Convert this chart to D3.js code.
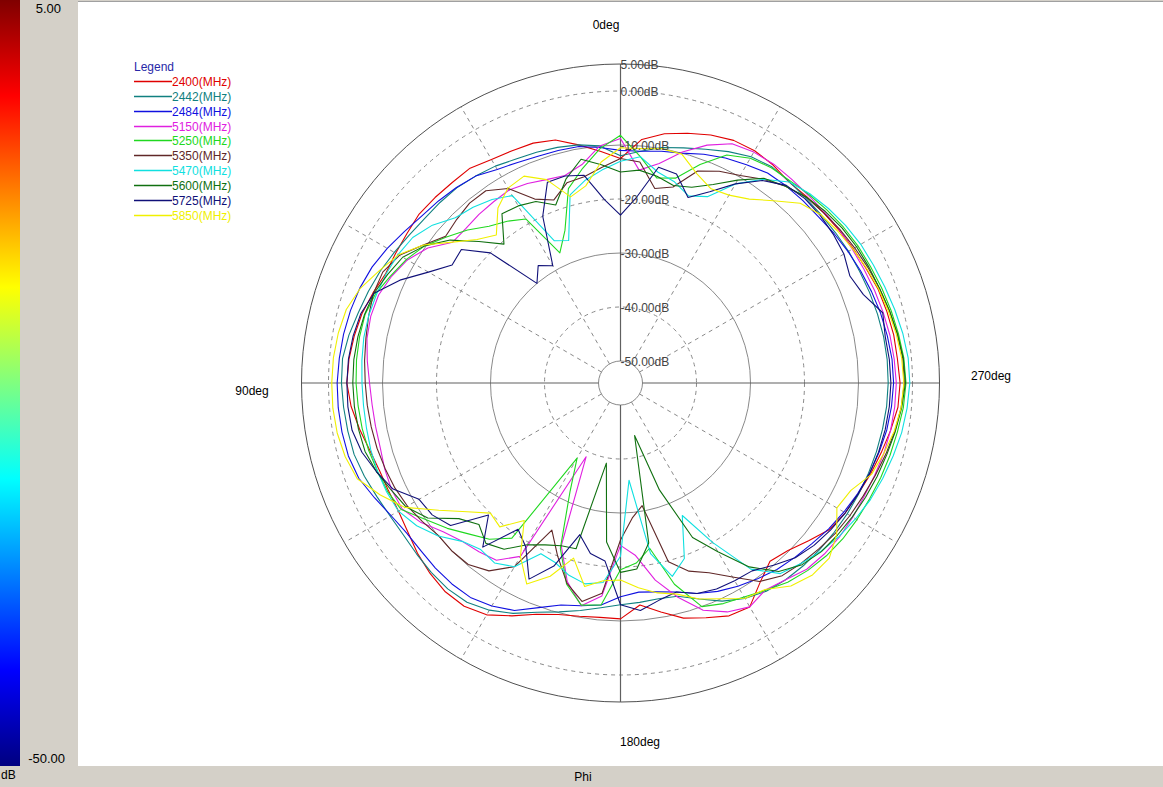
<!DOCTYPE html>
<html><head><meta charset="utf-8">
<script src="https://cdn.jsdelivr.net/npm/d3@7"></script>
<style>
body{margin:0;background:#d4d0c8;overflow:hidden;}
svg{display:block;}
text{font-family:"Liberation Sans",Arial,Helvetica,sans-serif;}
</style>
</head><body>
<svg id="chart" width="1163" height="787"></svg>
<script>
// ---------- data ----------
const phiDeg = [0,5,10,15,20,25,30,35,40,45,50,55,60,65,70,75,80,85,90,95,100,105,110,115,120,125,130,135,140,145,150,155,160,165,170,175,180,185,190,195,200,205,210,215,220,225,230,235,240,245,250,255,260,265,270,275,280,285,290,295,300,305,310,315,320,325,330,335,340,345,350,355];

const freqLabels = ["2400(MHz)","2442(MHz)","2484(MHz)","5150(MHz)","5250(MHz)","5350(MHz)","5470(MHz)","5600(MHz)","5725(MHz)","5850(MHz)"];

const s2400 = [-12.5,-11,-9.3,-7.5,-6.8,-6.6,-6.3,-5.5,-5.6,-5.5,-5.4,-5.8,-6,-6.1,-5.3,-4.5,-4,-3.6,-3.4,-4,-5,-6,-6.6,-6.7,-6.6,-6,-5,-4.2,-3.6,-3.6,-4.5,-6.5,-8.5,-9.7,-10.2,-10.5,-10.4,-12.8,-11,-9,-7.8,-6.5,-6.2,-9,-11,-10.2,-8.6,-6.8,-6,-5.5,-4.8,-4.1,-3.3,-2.5,-2.3,-2.6,-2.7,-3,-3.3,-3.9,-4.3,-4.7,-5,-5.3,-5.5,-4.8,-4.4,-4.5,-5.2,-6.2,-7.2,-8.8];
const s2442 = [-12,-10,-9.3,-8.9,-8.6,-8.3,-7.7,-7.3,-6.9,-6.8,-6.7,-6.3,-5.7,-5,-4.4,-3.8,-3,-2.4,-2.4,-2.6,-2.8,-3,-3.6,-4.3,-4.8,-5,-4.8,-4.5,-4.3,-4.5,-5.5,-7,-8.9,-10.2,-11.3,-12.3,-13,-13.3,-13.5,-13.2,-11.5,-9.5,-8,-7,-6.5,-6.2,-6,-5.8,-5.6,-5.4,-5.2,-5,-4.8,-4.6,-4.5,-4.5,-4.6,-4.8,-5,-5.2,-5.3,-5.5,-5.6,-5.6,-5.4,-5.2,-5.7,-6.8,-8,-9,-9.8,-11];
const s2484 = [-11,-10.3,-9.6,-9.5,-9.4,-9,-8.4,-7.3,-6.8,-6.4,-6,-5.2,-4.2,-3.3,-2.7,-2.3,-2,-1.8,-1.6,-1.6,-1.7,-1.9,-2.5,-3.8,-5,-5.7,-5.8,-5.6,-5.5,-5.6,-6.4,-7.6,-9.8,-11.5,-12.2,-12.8,-14.5,-15.2,-14.8,-14,-12.6,-11.5,-10.6,-9.8,-9,-8.4,-7.8,-7,-6.3,-5.6,-5,-4.5,-4,-3.7,-3.5,-3.6,-3.9,-4.2,-4.6,-5,-5.4,-5.8,-6.2,-6.3,-6.4,-6.6,-7.4,-8.1,-9,-10,-10.5,-11];
const s5150 = [-8.8,-10,-13,-14.3,-14,-13.3,-12.8,-13.1,-13.3,-13.6,-13.5,-10.5,-8.5,-7.3,-6.4,-6.2,-6.4,-7,-7.6,-7.9,-8,-8,-7.6,-7.3,-7.4,-9,-11.2,-12.6,-13.3,-14,-17,-39,-22,-16,-12.2,-14.5,-24,-22,-17,-13,-9.3,-7.3,-6.2,-7.3,-6.5,-5.3,-4.8,-4.5,-4.4,-4.3,-4,-3.6,-3.3,-3.1,-3,-3.2,-3.4,-3.7,-4,-4.3,-4.5,-4.6,-4.8,-4.9,-4.8,-4.6,-4.7,-5.2,-7.2,-9.8,-12.8,-14.5];
const s5250 = [-8.2,-10.5,-13.7,-16.8,-24,-27.5,-19,-17.5,-16.2,-14,-12,-9.8,-8.3,-7.1,-5.8,-5.1,-5,-5,-5.1,-5.3,-5.5,-5.8,-6.2,-6.5,-7.2,-10,-12.2,-14.5,-16.3,-19,-38,-32,-21.5,-15.5,-12.3,-12.8,-19.5,-20.6,-23,-15.5,-10,-9,-8.3,-7.2,-5.9,-5,-4.3,-3.8,-3.5,-3.2,-2.8,-2.4,-2,-1.5,-1.2,-1.4,-1.8,-2.2,-2.6,-3,-3.3,-3.7,-4.2,-4.7,-5.2,-5.4,-6,-7.5,-11,-14.8,-15.5,-12];
const s5350 = [-12.5,-14,-15.3,-15.7,-18,-16.5,-12.5,-10.6,-10.6,-11.2,-11.8,-9.5,-6.8,-5.5,-5.4,-5.8,-6.2,-6.5,-6.8,-7,-7.2,-7.4,-7.7,-8,-8.5,-9.3,-10.1,-10,-10.2,-11.6,-14.8,-24,-20,-15.7,-13,-15,-25,-29,-31,-19.8,-17,-15.3,-12.6,-9.2,-7.5,-6.8,-6.2,-5.5,-5,-4.5,-3.9,-3.2,-2.5,-1.9,-1.5,-1.6,-2,-2.5,-3,-3.5,-4,-4.5,-5,-5.4,-6.5,-8,-9.7,-10.8,-12.3,-16.5,-17.5,-13];
const s5470 = [-13,-14.5,-16,-18,-26,-25,-14,-12.6,-11.6,-10.8,-8.6,-7.1,-6.5,-6.2,-6,-5.8,-5.8,-6,-6.2,-6.3,-6.3,-6.2,-6.2,-6.3,-6.6,-8,-10,-12.6,-13.8,-13.4,-14.8,-19.2,-18.7,-17.2,-16.3,-17,-22,-36,-22,-17,-19.5,-27,-20,-12,-8,-6.8,-5.6,-4.6,-3.8,-3,-2.4,-1.8,-1.2,-0.8,-0.5,-0.6,-1,-1.5,-2,-2.4,-2.7,-3.2,-3.8,-4.5,-5.5,-8,-11.5,-16,-17.2,-15.5,-14.4,-12];
const s5600 = [-15,-13.5,-12,-15,-19,-17,-16.2,-15.8,-20.5,-17,-12.9,-9.8,-7.5,-6.5,-5.5,-5,-4.7,-4.5,-4.5,-4.6,-4.8,-5.1,-6,-7.2,-8.2,-10.5,-15,-17,-15.3,-16.5,-19.5,-21,-22,-22.3,-39,-24.5,-19,-19.5,-24,-44,-33,-22.5,-18,-12.5,-8.5,-6.5,-5.5,-5,-4.5,-4,-3.5,-3,-2.4,-1.8,-1.3,-1.5,-2,-2.5,-3,-3.3,-3.6,-4,-4.6,-5.4,-6.5,-7.8,-10.7,-13.5,-15.5,-16.2,-15.2,-14.5];
const s5725 = [-23,-20,-15,-14.4,-14.5,-20,-29,-27.5,-30,-20,-15.6,-16,-13,-9,-5.5,-4.3,-3.8,-3.5,-3.4,-3.4,-3.6,-4.5,-6,-7.6,-11,-11.5,-13,-19.5,-14.4,-21,-19,-14,-18,-25,-22,-21,-13,-11.8,-13.2,-14,-12.6,-12,-11.8,-11.6,-10,-8.3,-7.3,-6.6,-6,-5.5,-5,-4.6,-4.3,-4.1,-4,-4.1,-4.3,-3.8,-6.2,-7.2,-6.3,-6,-5.8,-5.8,-6.3,-8.3,-11.5,-15,-17.5,-14,-13.5,-19.5];
const s5850 = [-10.5,-13,-17,-18.4,-14,-11.8,-12.4,-14.5,-18.3,-16.5,-13.5,-9.5,-6.6,-4.8,-2.8,-1.5,-1,-0.7,-0.6,-0.6,-0.8,-1.3,-2.2,-5,-8,-13,-17,-20,-19.3,-23,-17,-13,-16,-20.5,-15.8,-17.3,-17.6,-16,-14.6,-13.6,-11.5,-10,-8,-7.4,-5,-3.8,-3.6,-5.2,-7.8,-7,-4.6,-3.6,-2.6,-1.9,-1.6,-1.8,-2.2,-2.7,-3.2,-3.8,-4.4,-5,-5.6,-7,-10,-12.5,-13.9,-14.4,-12.8,-10.2,-10,-10.5];

const seriesValues = [s2400,s2442,s2484,s5150,s5250,s5350,s5470,s5600,s5725,s5850];

const ringValues = [5,0,-10,-20,-30,-40,-50];
const ringLabels = ["5.00dB","0.00dB","-10.00dB","-20.00dB","-30.00dB","-40.00dB","-50.00dB"];
const spokeAngles = [0,30,60,90,120,150,180,210,240,270,300,330];
const angleLabels = ["0deg","90deg","180deg","270deg"];
const colorbarLabels = ["5.00","-50.00"];
const dbDomain = [-50, 5];

// ---------- styles ----------
const seriesColors = ["#e00000","#108080","#1010e0","#e020e0","#20d820","#602828","#10e0e0","#107010","#101078","#f0f000"];

const W = 1163, H = 787;
const cx = 620.5, cy = 383;
const svg = d3.select("#chart");

// background panels
svg.append("rect").attr("x",0).attr("y",0).attr("width",W).attr("height",H).attr("fill","#d4d0c8");
svg.append("rect").attr("x",78).attr("y",2).attr("width",W-78).attr("height",764).attr("fill","#ffffff");
svg.append("line").attr("x1",78).attr("x2",W).attr("y1",1.5).attr("y2",1.5).attr("stroke","#a0a0a0").attr("stroke-width",1);

// colour bar (jet)
const defs = svg.append("defs");
const grad = defs.append("linearGradient").attr("id","jet").attr("x1",0).attr("y1",0).attr("x2",0).attr("y2",1);
[["0","#800000"],["0.125","#ff0000"],["0.375","#ffff00"],["0.625","#00ffff"],["0.875","#0000ff"],["1","#000080"]]
  .forEach(([o,c])=>grad.append("stop").attr("offset",o).attr("stop-color",c));
svg.append("rect").attr("x",0).attr("y",0).attr("width",20).attr("height",766).attr("fill","url(#jet)");
svg.append("text").attr("x",61).attr("y",13).attr("text-anchor","end").attr("font-size",13).attr("fill","#000").text(colorbarLabels[0]);
svg.append("text").attr("x",65).attr("y",763).attr("text-anchor","end").attr("font-size",13).attr("fill","#000").text(colorbarLabels[1]);
svg.append("text").attr("x",1).attr("y",779).attr("font-size",12).attr("fill","#000").text("dB");
svg.append("text").attr("x",583).attr("y",781).attr("text-anchor","middle").attr("font-size",12).attr("fill","#000").text("Phi");

// scales
const r = d3.scaleLinear().domain(dbDomain).range([22, 319]).clamp(true);
const toRad = d => -d * Math.PI / 180; // counter-clockwise from top

const g = svg.append("g").attr("transform",`translate(${cx},${cy})`);

// rings
ringValues.forEach((v,i)=>{
  const solid = (v===5 || v===-10 || v===-30 || v===-50);
  g.append("circle").attr("r", r(v)).attr("fill", v===-50 ? "#fff" : "none")
    .attr("stroke", v===5 ? "#505050" : "#8a8a8a").attr("stroke-width", 1)
    .attr("stroke-dasharray", solid ? null : "4,4");
});
// spokes
spokeAngles.forEach(a=>{
  const axis = (a % 90 === 0);
  const t = toRad(a);
  g.append("line")
    .attr("x1", r(-50)*Math.sin(t)).attr("y1", -r(-50)*Math.cos(t))
    .attr("x2", r(5)*Math.sin(t)).attr("y2", -r(5)*Math.cos(t))
    .attr("stroke", axis ? "#606060" : "#8a8a8a").attr("stroke-width", axis ? 1.2 : 1)
    .attr("stroke-dasharray", axis ? null : "4,4");
});

// traces
const line = d3.lineRadial()
  .angle(d => toRad(d[0]))
  .radius(d => r(d[1]))
  .curve(d3.curveLinearClosed);
seriesValues.forEach((vals,i)=>{
  const pts = phiDeg.map((p,k)=>[p, vals[k]]);
  g.append("path").attr("d", line(pts)).attr("fill","none")
    .attr("stroke", seriesColors[i]).attr("stroke-width",1.1).attr("stroke-linejoin","round");
});

// ring labels
ringValues.forEach((v,i)=>{
  g.append("text").attr("x", 0).attr("y", -r(v) + 5).attr("font-size", 12)
    .attr("fill", "#444").text(ringLabels[i]);
});

// angle labels
const angPos = [[606,29,"middle"],[252,395,"middle"],[640,746,"middle"],[991,380,"middle"]];
angleLabels.forEach((t,i)=>{
  svg.append("text").attr("x",angPos[i][0]).attr("y",angPos[i][1]).attr("text-anchor",angPos[i][2])
    .attr("font-size",12).attr("fill","#000").text(t);
});

// legend
const lg = svg.append("g").attr("transform","translate(134,0)");
lg.append("text").attr("x",0).attr("y",71).attr("font-size",12).attr("fill","#2828a8").text("Legend");
freqLabels.forEach((t,i)=>{
  const y = Math.round(81 + i*14.85) + 0.5;
  lg.append("line").attr("x1",0).attr("x2",38).attr("y1",y).attr("y2",y).attr("stroke",seriesColors[i]).attr("stroke-width",1.3);
  lg.append("text").attr("x",38).attr("y",y+4.5).attr("font-size",12).attr("fill",seriesColors[i]).text(t);
});
</script>
</body></html>
